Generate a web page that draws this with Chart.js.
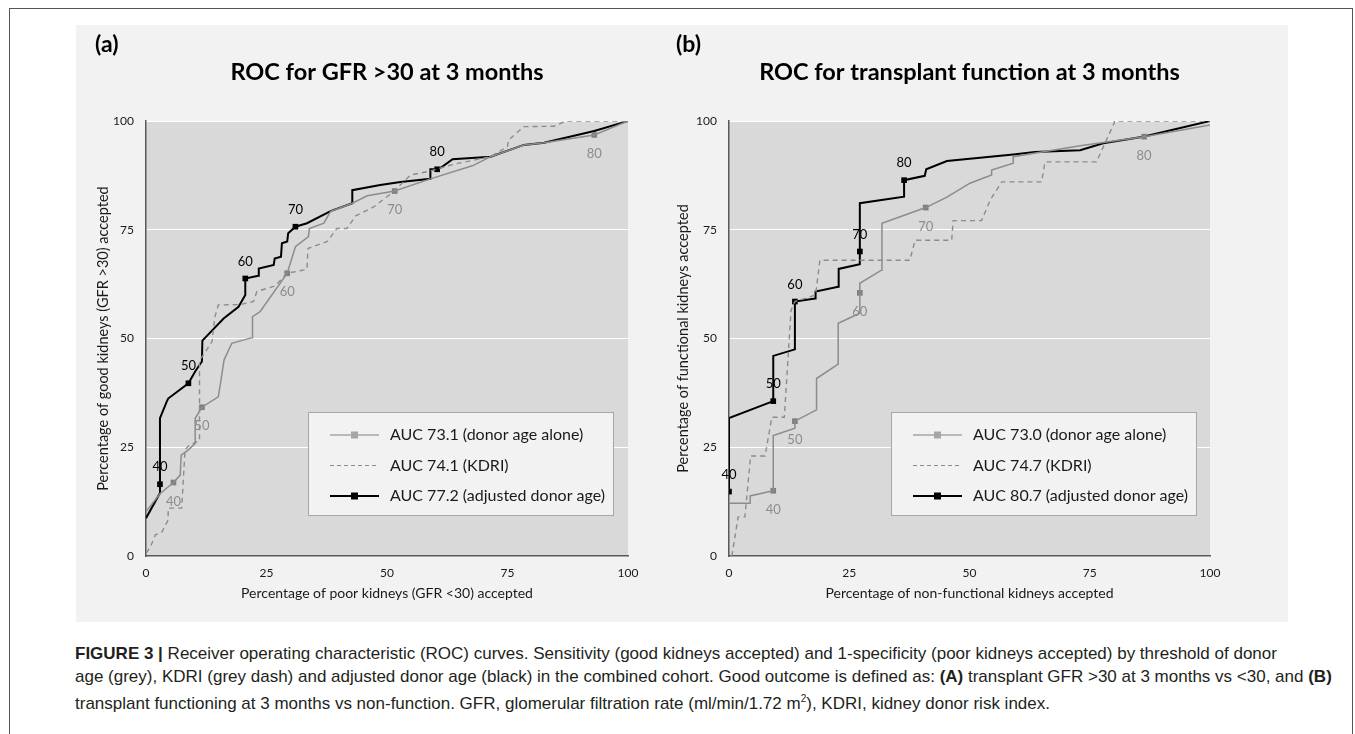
<!DOCTYPE html>
<html>
<head>
<meta charset="utf-8">
<script src="https://cdn.jsdelivr.net/npm/chart.js@4.4.1/dist/chart.umd.min.js"></script>
<style>
  body { margin: 0; background: #fff; width: 1355px; height: 734px; position: relative; overflow: hidden; font-family: "Liberation Sans", Arial, sans-serif; }
  #frame { position: absolute; left: 9px; top: 8px; width: 1342px; height: 740px; border: 1px solid #555; }
  #panel { position: absolute; left: 76px; top: 25px; width: 1212px; height: 597px; background: #f2f2f2; }
  .wrap { position: absolute; top: 25px; height: 597px; }
  #caption { position: absolute; left: 75px; top: 643px; font-size: 17px; line-height: 22.5px; color: #231f20; white-space: nowrap; }
</style>
</head>
<body>
<div id="frame"></div>
<div id="panel"></div>
<div class="wrap" style="left:76px;width:590px"><canvas id="rocA" width="590" height="597"></canvas></div>
<div class="wrap" style="left:666px;width:622px"><canvas id="rocB" width="622" height="597"></canvas></div>
<div id="caption">
  <div><b>FIGURE 3 |</b> Receiver operating characteristic (ROC) curves. Sensitivity (good kidneys accepted) and 1-specificity (poor kidneys accepted) by threshold of donor</div>
  <div>age (grey), KDRI (grey dash) and adjusted donor age (black) in the combined cohort. Good outcome is defined as: <b>(A)</b> transplant GFR &gt;30 at 3 months vs &lt;30, and <b>(B)</b></div>
  <div>transplant functioning at 3 months vs non-function. GFR, glomerular filtration rate (ml/min/1.72 m<sup style="font-size:10px">2</sup>), KDRI, kidney donor risk index.</div>
</div>
<script>
// threshold labels (donor age cut-offs) shown next to the markers
const thresholds = ['40', '50', '60', '70', '80'];

// panel (a): GFR >30 at 3 months  -- [x = % poor accepted, y = % good accepted]
const ageA = [[0,10.2],[2.9,14.3],[5.7,16.9],[7.1,18.6],[7.3,23.2],[8.8,24.4],[10.2,25.9],[10.2,31.6],[11.6,34.2],[15.0,36.6],[15.5,40.0],[16.2,45.1],[17.8,48.9],[22.0,50.2],[22.1,55.0],[23.7,56.2],[29.3,65.0],[31.0,71.1],[33.7,73.4],[33.9,75.3],[36.9,76.5],[38.3,79.2],[42.8,81.1],[45.9,82.8],[51.6,83.9],[59.0,86.7],[67.7,89.7],[71.5,91.8],[78.4,94.5],[82.6,95.0],[93.0,96.8],[100,100]];
const kdriA = [[0,0.7],[0.9,2.0],[1.9,4.8],[3.3,5.5],[4.6,8.3],[4.6,11.0],[7.4,11.0],[8.1,24.4],[9.0,25.5],[11.1,26.5],[11.1,45.0],[11.9,46.2],[13.7,49.3],[14.3,55.0],[15.0,57.7],[19.5,57.8],[22.3,58.5],[23.0,60.8],[26.8,62.1],[29.3,65.0],[33.4,65.9],[33.6,70.7],[37.6,72.3],[39.6,75.3],[41.7,75.3],[43.5,78.2],[47.3,80.3],[51.4,83.8],[54.9,87.6],[59.0,88.5],[63.6,90.0],[71.5,91.8],[75.0,94.1],[75.2,95.6],[78.4,98.7],[84.7,98.8],[87.1,100],[100,100]];
const adjA = [[0,8.7],[2.9,14.5],[2.9,16.5],[2.9,31.7],[4.3,35.5],[4.6,36.2],[8.8,39.7],[10.2,42.4],[11.6,44.7],[11.7,49.5],[16.1,54.6],[19.2,57.3],[20.6,60.0],[20.6,63.8],[23.3,64.4],[23.4,66.1],[26.5,66.9],[26.7,68.4],[28.0,68.8],[28.2,71.9],[29.3,72.3],[29.5,74.2],[31.0,75.7],[33.4,76.5],[38.3,79.3],[42.8,81.1],[42.8,84.1],[48.6,85.3],[52.8,86.0],[59.0,86.7],[59.0,88.9],[60.4,88.9],[61.5,89.5],[63.6,91.2],[71.5,91.8],[78.4,94.5],[82.6,95.0],[93.0,97.7],[100,100]];
const ageMarksA = [[5.7,16.9],[11.6,34.2],[29.3,65.0],[51.6,83.9],[93.0,96.8]];
const adjMarksA = [[2.9,16.5],[8.8,39.7],[20.6,63.8],[31.0,75.7],[60.4,88.9]];
const legendA = ['AUC 73.1 (donor age alone)', 'AUC 74.1 (KDRI)', 'AUC 77.2 (adjusted donor age)'];

// panel (b): transplant function at 3 months
const ageB = [[0,12.1],[4.4,12.1],[4.4,13.8],[9.2,15.0],[9.2,27.7],[13.7,29.4],[13.7,31.0],[18.2,33.6],[18.2,40.8],[22.7,44.1],[22.7,53.5],[27.2,55.8],[27.2,60.5],[27.2,62.7],[31.7,65.7],[31.8,76.5],[40.9,80.1],[45.3,82.5],[50.1,85.7],[54.6,87.6],[54.6,88.7],[59.1,90.3],[59.1,91.8],[73.0,94.3],[86.3,96.4],[100,99.1]];
const kdriB = [[0.6,0],[1.9,9.0],[3.3,9.0],[4.5,23.0],[7.5,23.0],[8.9,31.9],[11.5,31.9],[12.9,56.5],[13.7,58.5],[18.0,60.0],[18.9,68.0],[37.6,68.0],[38.7,72.6],[46.3,72.6],[46.6,77.1],[52.5,77.1],[54.3,81.8],[56.7,86.0],[65.0,86.0],[65.7,90.6],[76.4,90.6],[80.1,99.6],[80.1,100],[100,100]];
const adjB = [[0,14.8],[0,31.7],[9.2,35.6],[9.2,46.0],[13.7,47.5],[13.7,58.5],[17.9,59.2],[18.0,60.8],[22.7,61.9],[22.8,66.0],[27.2,67.1],[27.2,70.0],[27.2,81.1],[36.4,82.6],[36.4,86.4],[40.7,87.4],[41.0,88.9],[45.3,90.8],[59.1,92.3],[63.6,92.9],[73.0,93.3],[77.8,94.9],[86.1,96.4],[100,100]];
const ageMarksB = [[9.2,15.0],[13.7,31.0],[27.2,60.5],[40.9,80.1],[86.3,96.4]];
const adjMarksB = [[0,14.8],[9.2,35.6],[13.7,58.5],[27.2,70.0],[36.4,86.4]];
const legendB = ['AUC 73.0 (donor age alone)', 'AUC 74.7 (KDRI)', 'AUC 80.7 (adjusted donor age)'];

const xTicks = [0, 25, 50, 75, 100];

const FONT = 'Lato, "Open Sans", sans-serif';
const GREY = '#8c8c8c';
const GREY_MARK = '#7f7f7f';

function pts(arr) { return arr.map(p => ({ x: p[0], y: p[1] })); }

// plot background, headings, marker labels and the boxed legend
const rocDecor = {
  id: 'rocDecor',
  beforeDraw(chart) {
    const a = chart.chartArea, ctx = chart.ctx;
    ctx.save();
    ctx.fillStyle = '#d9d9d9';
    ctx.fillRect(a.left, a.top, a.right - a.left, a.bottom - a.top);
    const o = chart.options.plugins.rocDecor;
    ctx.fillStyle = '#000';
    ctx.textBaseline = 'middle';
    ctx.textAlign = 'left';
    ctx.font = 'bold 23px ' + FONT;
    ctx.fillText(o.tag, o.tagX, 20);
    ctx.textAlign = 'center';
    ctx.font = 'bold 23.5px ' + FONT;
    ctx.fillText(o.title, (a.left + a.right) / 2, 47);
    ctx.restore();
  },
  afterDatasetsDraw(chart) {
    const ctx = chart.ctx, a = chart.chartArea;
    const o = chart.options.plugins.rocDecor;
    ctx.save();
    ctx.font = '13px ' + FONT;
    ctx.textAlign = 'center';
    ctx.textBaseline = 'middle';
    chart.data.datasets.forEach((ds, i) => {
      if (!ds.markLabels) return;
      const meta = chart.getDatasetMeta(i);
      ctx.fillStyle = ds.labelColor;
      meta.data.forEach((el, j) => ctx.fillText(ds.markLabels[j], el.x, el.y + ds.labelDy));
    });
    // legend box
    const bx = a.left + 162, by = 412 - 25, bw = 305, bh = 103;
    ctx.fillStyle = '#f2f2f2';
    ctx.fillRect(bx, by, bw, bh);
    ctx.strokeStyle = '#a6a6a6';
    ctx.lineWidth = 1;
    ctx.strokeRect(bx + 0.5, by + 0.5, bw, bh);
    const rows = [
      { c: '#a6a6a6', w: 1.5, dash: [], mark: true },
      { c: GREY, w: 1.2, dash: [4, 3], mark: false },
      { c: '#000', w: 2.2, dash: [], mark: true }
    ];
    ctx.font = '16px ' + FONT;
    ctx.textAlign = 'left';
    rows.forEach((r, k) => {
      const y = by + 23 + k * 30.5;
      ctx.strokeStyle = r.c;
      ctx.lineWidth = r.w;
      ctx.setLineDash(r.dash);
      ctx.beginPath();
      ctx.moveTo(bx + 22, y);
      ctx.lineTo(bx + 71, y);
      ctx.stroke();
      ctx.setLineDash([]);
      if (r.mark) { ctx.fillStyle = r.c; ctx.fillRect(bx + 43, y - 3.5, 7, 7); }
      ctx.fillStyle = '#1a1a1a';
      ctx.fillText(o.legend[k], bx + 82, y);
    });
    ctx.restore();
  }
};

function makeChart(id, d, yPad, yTitle, xTitle, yTitlePad, rightPad) {
  const lineSet = (data, color, width, dash) => ({
    data: pts(data), showLine: true, borderColor: color, borderWidth: width,
    borderDash: dash, pointRadius: 0, fill: false, tension: 0
  });
  const markSet = (data, color, labelColor, dy) => ({
    data: pts(data), showLine: false, pointStyle: 'rect', pointRadius: 4,
    backgroundColor: color, borderColor: color, borderWidth: 0,
    markLabels: thresholds, labelColor: labelColor, labelDy: dy
  });
  return new Chart(document.getElementById(id), {
    type: 'scatter',
    data: {
      datasets: [
        lineSet(d.kdri, GREY, 1.4, [5, 4]),
        lineSet(d.age, GREY, 1.5, []),
        markSet(d.ageMarks, GREY_MARK, GREY, 19),
        lineSet(d.adj, '#000', 2, []),
        markSet(d.adjMarks, '#000', '#000', -17)
      ]
    },
    options: {
      responsive: false,
      animation: false,
      devicePixelRatio: 1,
      layout: { padding: { top: 96, left: 0, right: rightPad, bottom: 0 } },
      plugins: {
        legend: { display: false },
        tooltip: { enabled: false },
        rocDecor: { tag: d.tag, tagX: d.tagX, title: d.title, legend: d.legend }
      },
      scales: {
        x: {
          type: 'linear', min: 0, max: 100,
          afterBuildTicks: s => { s.ticks = xTicks.map(v => ({ value: v })); },
          afterFit: s => { s.height = 66; },
          grid: { display: false, drawTicks: false },
          border: { display: true, color: '#595959', width: 1.5 },
          ticks: { color: '#1a1a1a', font: { family: FONT, size: 12 }, padding: 10, maxRotation: 0 },
          title: { display: true, text: xTitle, color: '#1a1a1a', font: { family: FONT, size: 14 }, padding: { top: 4, bottom: 20 } }
        },
        y: {
          type: 'linear', min: 0, max: 100,
          afterBuildTicks: s => { s.ticks = xTicks.map(v => ({ value: v })); },
          afterFit: s => { s.width = yPad; },
          grid: { color: ctx => (ctx.tick.value === 0 ? 'rgba(0,0,0,0)' : '#ffffff'), lineWidth: 1, drawTicks: false },
          border: { display: true, color: '#595959', width: 1.5 },
          ticks: { color: '#1a1a1a', font: { family: FONT, size: 12 }, padding: 12 },
          title: { display: true, text: yTitle, color: '#1a1a1a', font: { family: FONT, size: 14.5 }, padding: { top: yTitlePad, bottom: 0 } }
        }
      }
    },
    plugins: [rocDecor]
  });
}

makeChart('rocA', {
  kdri: kdriA, age: ageA, adj: adjA, ageMarks: ageMarksA, adjMarks: adjMarksA,
  tag: '(a)', tagX: 19, title: 'ROC for GFR >30 at 3 months', legend: legendA
}, 70, 'Percentage of good kidneys (GFR >30) accepted', 'Percentage of poor kidneys (GFR <30) accepted', 19, 38);

makeChart('rocB', {
  kdri: kdriB, age: ageB, adj: adjB, ageMarks: ageMarksB, adjMarks: adjMarksB,
  tag: '(b)', tagX: 10, title: 'ROC for transplant function at 3 months', legend: legendB
}, 63, 'Percentage of functional kidneys accepted', 'Percentage of non-functional kidneys accepted', 9, 78);
</script>
</body>
</html>
